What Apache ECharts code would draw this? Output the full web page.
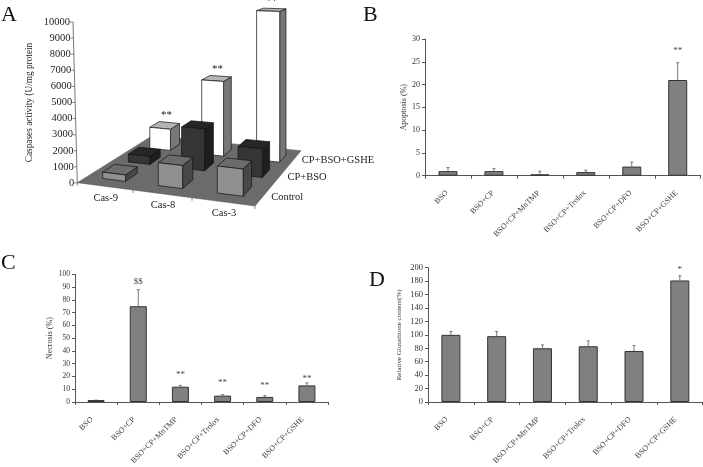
<!DOCTYPE html>
<html>
<head>
<meta charset="utf-8">
<style>
  html, body { margin: 0; padding: 0; background: #fff; }
  #main { width: 703px; height: 467px; }
</style>
<script src="https://cdn.jsdelivr.net/npm/echarts@6/dist/echarts.min.js"></script>
</head>
<body>
<div id="main"></div>
<script>
// panel A
var casNames = ["Cas-9", "Cas-8", "Cas-3"];
var rowNames = ["Control", "CP+BSO", "CP+BSO+GSHE"];
var controlVals = [400, 1400, 1600];
var cpBsoVals = [530, 2700, 1800];
var gsheVals = [1500, 5150, 10100];
var casStars = ["**", "**", "**"];
var casTicks = [0, 1000, 2000, 3000, 4000, 5000, 6000, 7000, 8000, 9000, 10000];

// panels B, C, D
var treatB = ["BSO", "BSO+CP", "BSO+CP+MnTMP", "BSO+CP+Trolox", "BSO+CP+DFO", "BSO+CP+GSHE"];
var apoptosis = [1, 1, 0.3, 0.8, 2, 21];
var apoptosisErr = [1.8, 1.6, 1, 1.2, 3, 24.8];
var apoptosisMarks = [null, null, null, null, null, ["**", 27.9]];

var necrosis = [1.5, 75, 12, 5, 4, 13];
var necrosisErr = [1.5, 88, 13, 5.8, 5, 15];
var necrosisMarks = [null, ["$$", 95.5], ["**", 23], ["**", 16.8], ["**", 14.2], ["**", 20.2]];

var glutathione = [100, 98, 80, 83, 76, 181];
var glutathioneErr = [105, 105, 85, 91, 84, 188];
var glutathioneMarks = [null, null, null, null, null, ["*", 200]];

var serif = '"Liberation Serif", serif';
var gridA = { left: 75, top: 22, width: 230, height: 161 };

// floor corners of the 3D box, front-left first, going round
var floor = [[77.3, 182.7], [255, 206], [301, 150.7], [152.3, 135.7]];
var rowDepth = [0.185, 0.505, 0.805];
var barHalfS = 0.07;
var barHalfT = 0.075;

function makeProjection(q) {
  var sx = q[0][0] - q[1][0] + q[2][0] - q[3][0];
  var sy = q[0][1] - q[1][1] + q[2][1] - q[3][1];
  var dx1 = q[1][0] - q[2][0];
  var dx2 = q[3][0] - q[2][0];
  var dy1 = q[1][1] - q[2][1];
  var dy2 = q[3][1] - q[2][1];
  var det = dx1 * dy2 - dx2 * dy1;
  var g = (sx * dy2 - dx2 * sy) / det;
  var h = (dx1 * sy - sx * dy1) / det;
  var a = q[1][0] - q[0][0] + g * q[1][0];
  var b = q[3][0] - q[0][0] + h * q[3][0];
  var d = q[1][1] - q[0][1] + g * q[1][1];
  var e = q[3][1] - q[0][1] + h * q[3][1];
  return function (s, t, lift) {
    var w = 1 + g * s + h * t;
    return [
      (a * s + b * t + q[0][0]) / w,
      (d * s + e * t + q[0][1]) / w - (lift || 0) / w
    ];
  };
}
var project = makeProjection(floor);

function poly(points, fill) {
  return {
    type: "polygon",
    shape: { points: points },
    style: { fill: fill, stroke: "#111", lineWidth: 0.7 }
  };
}

function label(text, x, y, size, align, color) {
  return {
    type: "text",
    style: {
      text: text,
      x: x,
      y: y,
      font: size + "px " + serif,
      fill: color || "#222",
      align: align || "center",
      verticalAlign: "middle"
    }
  };
}

var rowColors = [
  { front: "#909090", top: "#6c6c6c", side: "#484848" },
  { front: "#353535", top: "#262626", side: "#1e1e1e" },
  { front: "#ffffff", top: "#b5b5b5", side: "#777777" }
];

function sOfCategory(api, index) {
  return (api.coord([index, 0])[0] - gridA.left) / gridA.width;
}

function renderFloor(params, api) {
  var kids = [{
    type: "polygon",
    shape: { points: floor },
    style: { fill: "#6b6b6b", stroke: "#555", lineWidth: 0.5 }
  }];
  var i;
  for (i = 0; i <= casNames.length; i++) {
    var a = project(i / casNames.length, 0);
    kids.push({
      type: "line",
      shape: { x1: a[0], y1: a[1], x2: a[0], y2: a[1] + 3 },
      style: { stroke: "#555", lineWidth: 0.7 }
    });
  }
  for (i = 0; i < casNames.length; i++) {
    var p = project(sOfCategory(api, i), 0);
    kids.push(label(casNames[i], p[0] + 1, p[1] + 11.5, 10.5));
  }
  for (i = 0; i < rowNames.length; i++) {
    var r = project(1, (i + 0.5) / rowNames.length);
    kids.push(label(rowNames[i], r[0] + 7, r[1] + 2, 10.5, "left"));
  }
  return { type: "group", children: kids };
}

function renderCasAxis(params, api) {
  var kids = [];
  var bottom = api.coord([0, casTicks[0]])[1];
  var topY = api.coord([0, casTicks[casTicks.length - 1]])[1];
  kids.push({
    type: "line",
    shape: { x1: 77.3, y1: bottom, x2: 73, y2: topY },
    style: { stroke: "#555", lineWidth: 0.8 }
  });
  for (var i = 0; i < casTicks.length; i++) {
    var y = api.coord([0, casTicks[i]])[1];
    var x = 77.3 - 4.3 * (bottom - y) / (bottom - topY);
    kids.push({
      type: "line",
      shape: { x1: x - 3, y1: y, x2: x, y2: y },
      style: { stroke: "#555", lineWidth: 0.7 }
    });
    kids.push(label(String(casTicks[i]), x - 3, y, 10.5, "right"));
  }
  return { type: "group", children: kids };
}

function renderCasBar(params, api) {
  var cat = api.value(0);
  var row = api.value(1);
  var val = api.value(2);
  var t = rowDepth[row];
  // the back of the floor spreads a little wider than the plain projection
  var s = sOfCategory(api, cat) * (1 + 0.06 * t * t);
  var lift = api.coord([cat, 0])[1] - api.coord([cat, val])[1];
  var fl = project(s - barHalfS, t - barHalfT);
  var fr = project(s + barHalfS, t - barHalfT);
  var br = project(s + barHalfS, t + barHalfT);
  var bl = project(s - barHalfS, t + barHalfT);
  var flt = project(s - barHalfS, t - barHalfT, lift);
  var frt = project(s + barHalfS, t - barHalfT, lift);
  var brt = project(s + barHalfS, t + barHalfT, lift);
  var blt = project(s - barHalfS, t + barHalfT, lift);
  var c = rowColors[row];
  var kids = [
    poly([fr, br, brt, frt], c.side),
    poly([flt, frt, brt, blt], c.top),
    poly([fl, fr, frt, flt], c.front)
  ];
  if (row === 2) {
    var mid = project(s, t + barHalfT, lift);
    kids.push(label(casStars[cat], mid[0] - 3, mid[1] - 7, 11));
  }
  return { type: "group", children: kids };
}

function renderErrors(params, api) {
  var i = api.value(0);
  var base = api.coord([i, api.value(1)]);
  var top = api.coord([i, api.value(2)]);
  var kids = [
    { type: "line", shape: { x1: base[0], y1: base[1], x2: top[0], y2: top[1] }, style: { stroke: "#777", lineWidth: 1 } },
    { type: "line", shape: { x1: top[0] - 1.5, y1: top[1], x2: top[0] + 1.5, y2: top[1] }, style: { stroke: "#777", lineWidth: 1 } }
  ];
  return { type: "group", children: kids };
}

function renderMarks(params, api) {
  var p = api.coord([api.value(0), api.value(1)]);
  return label(api.value(2), p[0], p[1] + 2, 9, "center", "#444");
}

var casData = [];
var rows = [controlVals, cpBsoVals, gsheVals];
for (var r = rows.length - 1; r >= 0; r--) {
  for (var c = 0; c < casNames.length; c++) {
    casData.push([c, r, rows[r][c]]);
  }
}

function panelAxes(index, names, yMax, yStep, yName, gap, tickSize, nameSize, labelMargin, labelPad) {
  return {
    x: {
      type: "category",
      gridIndex: index,
      data: names,
      axisLine: { lineStyle: { color: "#555", width: 1 } },
      axisTick: { show: true, length: 3, lineStyle: { color: "#555" } },
      axisLabel: {
        interval: 0,
        rotate: 45,
        margin: labelMargin,
        padding: [0, labelPad, 0, 0],
        fontSize: 8,
        fontFamily: serif,
        color: "#444"
      }
    },
    y: {
      type: "value",
      gridIndex: index,
      min: 0,
      max: yMax,
      interval: yStep,
      name: yName,
      nameLocation: "middle",
      nameRotate: 90,
      nameGap: gap,
      nameTextStyle: { fontSize: nameSize, fontFamily: serif, color: "#333" },
      splitLine: { show: false },
      axisLine: { show: true, lineStyle: { color: "#555", width: 1 } },
      axisTick: { show: true, length: 3, lineStyle: { color: "#555" } },
      axisLabel: { margin: 5, fontSize: tickSize, fontFamily: serif, color: "#333" }
    }
  };
}

function panelSeries(index, values, errs, marks, barWidth) {
  var errData = [];
  var markData = [];
  for (var i = 0; i < values.length; i++) {
    errData.push([i, values[i], errs[i]]);
    if (marks[i]) {
      markData.push([i, marks[i][1], marks[i][0]]);
    }
  }
  return [
    {
      type: "custom",
      xAxisIndex: index,
      yAxisIndex: index,
      renderItem: renderErrors,
      data: errData,
      encode: { x: 0, y: 2 },
      z: 1
    },
    {
      type: "bar",
      xAxisIndex: index,
      yAxisIndex: index,
      data: values,
      barWidth: barWidth,
      itemStyle: { color: "#808080", borderColor: "#333", borderWidth: 1 },
      z: 2
    },
    {
      type: "custom",
      xAxisIndex: index,
      yAxisIndex: index,
      renderItem: renderMarks,
      data: markData,
      dimensions: ["x", "y", { name: "mark", type: "ordinal" }],
      encode: { x: 0, y: 1 },
      z: 3
    }
  ];
}

var axesB = panelAxes(1, treatB, 30, 5, "Apoptosis (%)", 14, 8, 8, 15, 1.5);
var axesC = panelAxes(2, treatB, 100, 10, "Necrosis (%)", 21, 7.5, 8, 12, 6);
var axesD = panelAxes(3, treatB, 200, 20, "Relative Glutathione content(%)", 25, 8.5, 7, 12, 6);

function letter(text, left, top) {
  return {
    text: text,
    left: left,
    top: top,
    padding: 0,
    textStyle: { fontFamily: serif, fontSize: 22, fontWeight: "normal", color: "#111" }
  };
}

var option = {
  animation: false,
  backgroundColor: "#fff",
  title: [letter("A", 1, 4), letter("B", 363, 4), letter("C", 1, 252), letter("D", 369, 269)],
  grid: [
    gridA,
    { left: 425, top: 39, width: 275.7, height: 136.7 },
    { left: 75, top: 274.3, width: 253, height: 138 },
    { left: 428, top: 267.7, width: 274.7, height: 140.3 }
  ],
  xAxis: [
    { type: "category", gridIndex: 0, data: casNames, show: false },
    axesB.x,
    axesC.x,
    axesD.x
  ],
  yAxis: [
    {
      type: "value",
      gridIndex: 0,
      min: 0,
      max: 10000,
      interval: 1000,
      name: "Caspases activity (U/mg protein",
      nameLocation: "middle",
      nameRotate: 90,
      nameGap: 41,
      nameTextStyle: { fontSize: 9.3, fontFamily: serif, color: "#222" },
      splitLine: { show: false },
      axisLine: { show: false },
      axisTick: { show: false },
      axisLabel: { show: false }
    },
    axesB.y,
    axesC.y,
    axesD.y
  ],
  series: [
    { type: "custom", xAxisIndex: 0, yAxisIndex: 0, renderItem: renderFloor, data: [[0, 0]], z: 1 },
    { type: "custom", xAxisIndex: 0, yAxisIndex: 0, renderItem: renderCasAxis, data: [[0, 0]], z: 1 },
    { type: "custom", xAxisIndex: 0, yAxisIndex: 0, renderItem: renderCasBar, data: casData, encode: { x: 0, y: 2 }, z: 2 }
  ]
    .concat(panelSeries(1, apoptosis, apoptosisErr, apoptosisMarks, 19))
    .concat(panelSeries(2, necrosis, necrosisErr, necrosisMarks, 17))
    .concat(panelSeries(3, glutathione, glutathioneErr, glutathioneMarks, 19))
};

var chartDom = document.getElementById("main");
var myChart = echarts.init(chartDom);
myChart.setOption(option);
</script>
</body>
</html>
